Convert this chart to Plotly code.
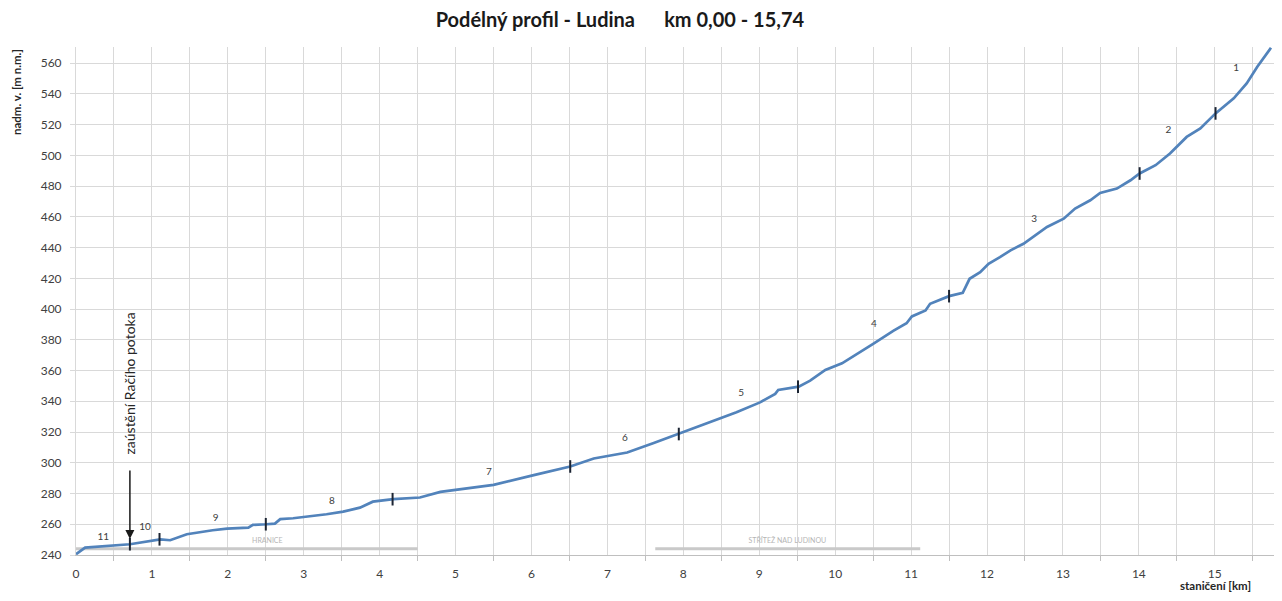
import plotly.graph_objects as go

# ---- data ----
station_km = [0.00, 0.12, 0.71, 1.11, 1.24, 1.46, 1.80, 1.99, 2.27, 2.33, 2.51, 2.62, 2.69, 2.86,
              3.30, 3.52, 3.74, 3.91, 4.18, 4.53, 4.80, 5.50, 6.03, 6.51, 6.82, 7.26, 7.61, 7.94,
              8.26, 8.70, 9.01, 9.21, 9.25, 9.52, 9.67, 9.87, 10.09, 10.33, 10.50, 10.77, 10.94,
              11.01, 11.19, 11.25, 11.50, 11.68, 11.77, 11.91, 12.02, 12.17, 12.31, 12.48, 12.79,
              13.01, 13.16, 13.36, 13.49, 13.71, 13.89, 14.01, 14.22, 14.41, 14.63, 14.81, 15.01,
              15.25, 15.42, 15.56, 15.74]
elevation_m = [240.5, 244.8, 247.0, 250.2, 249.6, 253.5, 256.1, 257.1, 257.8, 259.6, 260.0, 260.4,
               263.3, 263.9, 266.5, 268.2, 270.8, 274.7, 276.3, 277.4, 281.1, 285.6, 292.0, 297.6,
               302.8, 306.7, 312.8, 318.7, 324.7, 332.8, 339.3, 344.8, 347.4, 349.5, 353.4, 360.4,
               364.7, 371.9, 377.4, 386.0, 390.8, 395.2, 399.1, 403.4, 408.4, 410.6, 419.7, 424.0,
               429.5, 433.8, 438.2, 442.5, 453.4, 458.8, 465.4, 470.8, 475.5, 478.4, 483.8, 488.2,
               493.6, 501.2, 512.0, 517.5, 527.3, 537.1, 546.8, 557.7, 570.0]

boundary_km = [0.71, 1.10, 2.50, 4.17, 6.51, 7.94, 9.51, 11.50, 14.01, 15.01]
boundary_elev = [247.0, 250.2, 260.0, 276.3, 297.6, 318.7, 349.5, 408.4, 488.2, 527.3]

segment_labels = ["11", "10", "9", "8", "7", "6", "5", "4", "3", "2", "1"]
segment_label_km = [0.36, 0.91, 1.84, 3.37, 5.44, 7.23, 8.76, 10.51, 12.62, 14.39, 15.28]
segment_label_elev = [251.7, 257.6, 263.5, 274.6, 293.5, 315.6, 345.0, 389.9, 458.4, 516.4, 556.2]

areas = ["HRANICE", "STŘÍTEŽ NAD LUDINOU"]
area_start_km = [0.0, 7.63]
area_end_km = [4.50, 11.12]
area_label_km = [2.52, 9.37]
area_bar_elev = 244.0
area_label_elev = 249.2

confluence_text = "zaústění Račího potoka"
confluence_km = 0.71
confluence_tip_elev = 250.4
confluence_tail_elev = 296.0
confluence_text_elev = 351.5

x_labels = [str(i) for i in range(0, 16)]
y_ticks = list(range(240, 561, 20))

FONT = "Lato"

fig = go.Figure()

# area bars
for name, s, e in zip(areas, area_start_km, area_end_km):
    fig.add_trace(go.Scatter(x=[s, e], y=[area_bar_elev, area_bar_elev], mode="lines",
                             line=dict(color="#c9c9c9", width=3), hoverinfo="skip", showlegend=False))

# profile
fig.add_trace(go.Scatter(x=station_km, y=elevation_m, mode="lines",
                         line=dict(color="#5283bb", width=2.7), name="profil", showlegend=False))

# segment boundary ticks
fig.add_trace(go.Scatter(x=boundary_km, y=boundary_elev, mode="markers",
                         marker=dict(symbol="line-ns", size=9,
                                     line=dict(color="#1b2433", width=2)),
                         hoverinfo="skip", showlegend=False))

# segment numbers
fig.add_trace(go.Scatter(x=segment_label_km, y=segment_label_elev, mode="text",
                         text=segment_labels, textfont=dict(family=FONT, size=10, color="#404040"),
                         hoverinfo="skip", showlegend=False))

# area labels
fig.add_trace(go.Scatter(x=area_label_km, y=[area_label_elev] * len(areas), mode="text",
                         text=areas, textfont=dict(family=FONT, size=7, color="#b5b5b5"),
                         hoverinfo="skip", showlegend=False))

annotations = [
    dict(x=confluence_km, y=confluence_tip_elev, ax=confluence_km, ay=confluence_tail_elev,
         xref="x", yref="y", axref="x", ayref="y", text="", showarrow=True,
         arrowhead=2, arrowsize=1.2, arrowwidth=1.5, arrowcolor="#1a1a1a", standoff=0),
    dict(x=confluence_km, y=confluence_text_elev, xref="x", yref="y", text=confluence_text,
         textangle=-90, showarrow=False, font=dict(family=FONT, size=14, color="#262626"),
         xanchor="center", yanchor="middle"),
    dict(x=-0.0501, y=0.9114, xref="paper", yref="paper", text="<b>nadm. v. [m n.m.]</b>",
         textangle=-90, showarrow=False, font=dict(family=FONT, size=11.5, color="#262626"),
         xanchor="center", yanchor="middle"),
    dict(x=0.9508, y=-0.061, xref="paper", yref="paper", text="<b>staničení [km]</b>",
         showarrow=False, font=dict(family=FONT, size=11.5, color="#262626"),
         xanchor="center", yanchor="middle"),
]

# page body has an 8 px margin, so the figure is sized/shifted to compensate
fig.update_layout(
    width=1268, height=585,
    margin=dict(l=68, r=2, t=39, b=38),
    paper_bgcolor="white", plot_bgcolor="white",
    title=dict(text="<b>Podélný profil - Ludina      km 0,00 - 15,74</b>",
               x=0.4826, y=0.9795, xanchor="center", yanchor="middle",
               font=dict(family=FONT, size=20, color="#1a1a1a")),
    annotations=annotations,
    font=dict(family=FONT, color="#404040"),
)

fig.update_xaxes(
    range=[0, 15.78], tickmode="array", tickvals=list(range(0, 16)), ticktext=x_labels,
    ticks="", showgrid=True, gridcolor="#d9d9d9", gridwidth=1,
    showline=True, linecolor="#bfbfbf", linewidth=1, zeroline=False,
    tickfont=dict(family=FONT, size=12, color="#404040"), ticklabelstandoff=8,
    minor=dict(tick0=0.5, dtick=1, ticks="outside", ticklen=5, tickcolor="#bfbfbf",
               showgrid=True, gridcolor="#d9d9d9", gridwidth=1),
)
fig.update_yaxes(
    range=[240, 570.5], tickmode="array", tickvals=y_ticks, ticks="outside", ticklen=5,
    tickcolor="#d9d9d9", showgrid=True, gridcolor="#d9d9d9", gridwidth=1,
    showline=True, linecolor="#d9d9d9", linewidth=1, zeroline=False,
    tickfont=dict(family=FONT, size=12, color="#404040"), ticklabelstandoff=6,
)

fig.write_html("out.html")
